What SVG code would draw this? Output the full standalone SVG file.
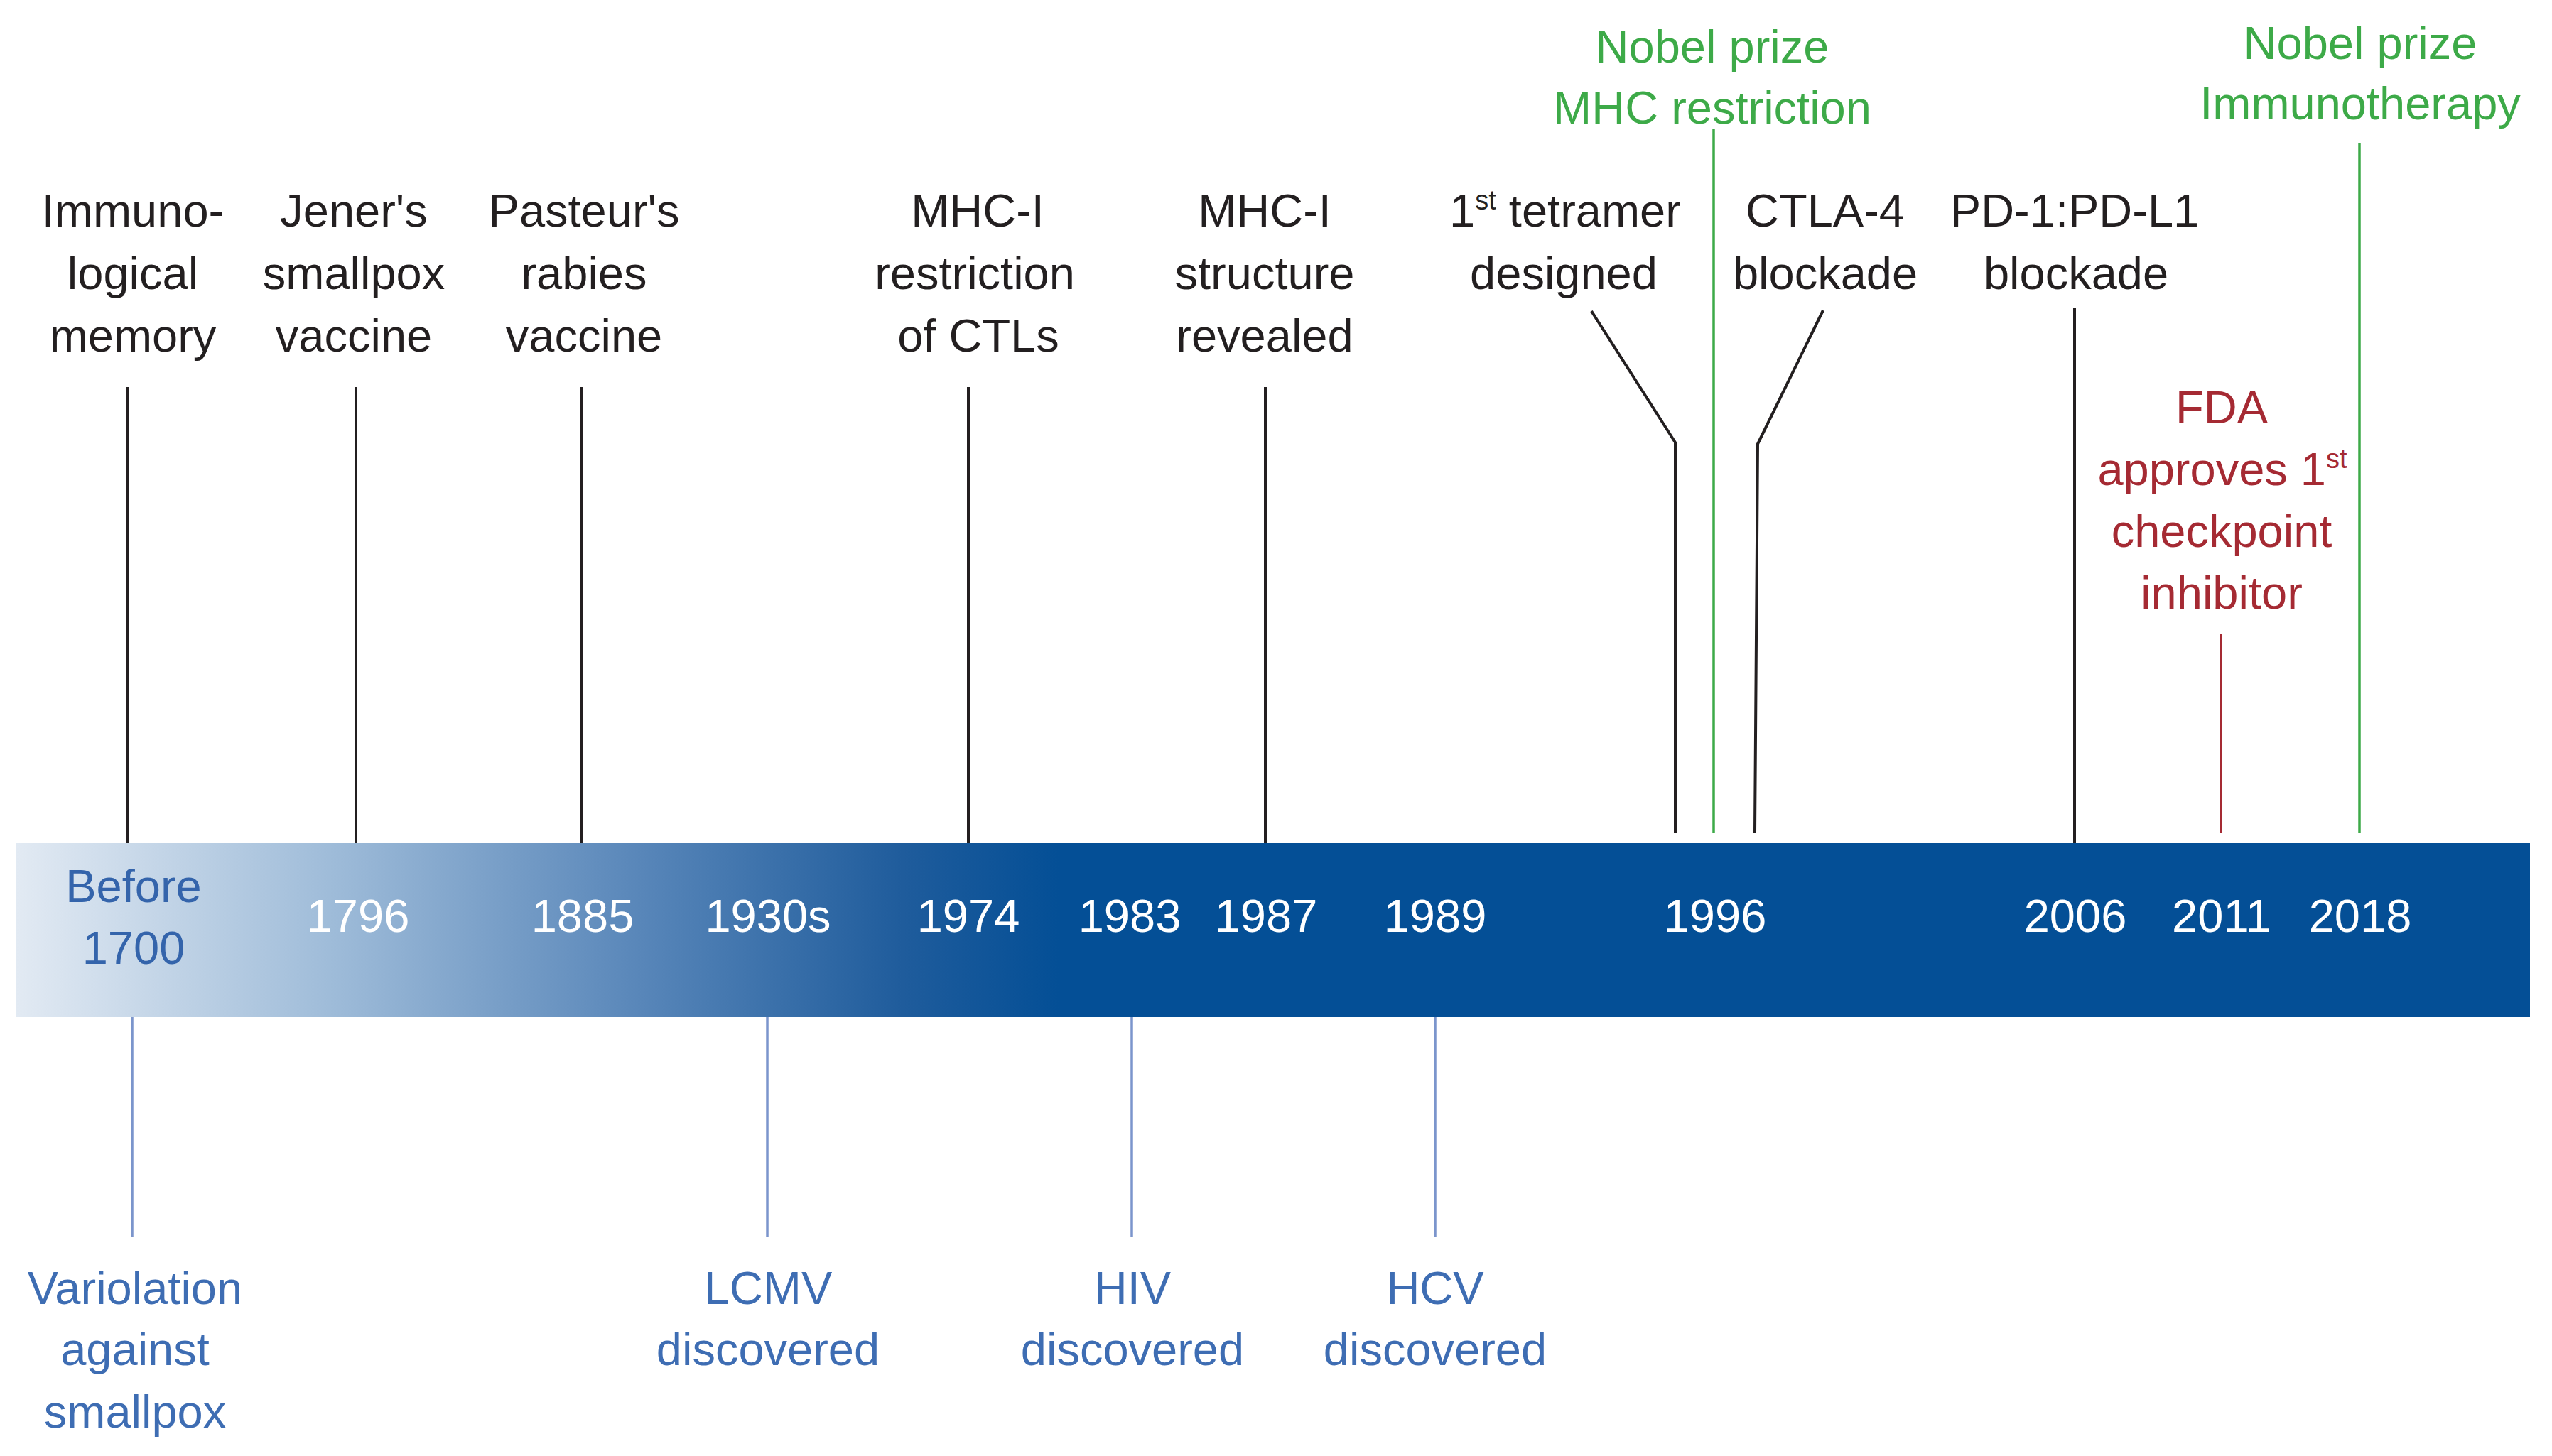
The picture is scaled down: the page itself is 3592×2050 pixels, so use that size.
<svg xmlns="http://www.w3.org/2000/svg" width="3592" height="2050" viewBox="0 0 3592 2050">
<defs>
<linearGradient id="barGrad" gradientUnits="userSpaceOnUse" x1="23" y1="0" x2="1490" y2="0">
<stop offset="0" stop-color="#e2eaf3"/>
<stop offset="0.3" stop-color="#9fbcd9"/>
<stop offset="0.6" stop-color="#5886b9"/>
<stop offset="0.85" stop-color="#1f5c9c"/>
<stop offset="1" stop-color="#044f96"/>
</linearGradient>
<style>
text{font-family:"Liberation Sans",Arial,sans-serif;font-size:65px;text-anchor:middle}
.blk{fill:#231f20}
.grn{fill:#3daa48}
.red{fill:#a52a33}
.blu{fill:#3e6db3}
.blu2{fill:#3464ab}
.yr{fill:#ffffff}
.sup{font-size:38px}
.lb{stroke:#231f20;stroke-width:4;fill:none}
.lg{stroke:#3daa48;stroke-width:3.5;fill:none}
.lr{stroke:#a52a33;stroke-width:4;fill:none}
.lu{stroke:#7b95cc;stroke-width:3.5;fill:none}
</style>
</defs>
<rect width="3592" height="2050" fill="#ffffff"/>

<g id="timeline-bar">
<rect x="23" y="1187" width="3538" height="245" fill="url(#barGrad)"/>
</g>

<g id="connectors">
<line class="lb" x1="180" y1="545" x2="180" y2="1187"/>
<line class="lb" x1="501" y1="545" x2="501" y2="1187"/>
<line class="lb" x1="819" y1="545" x2="819" y2="1187"/>
<line class="lb" x1="1363" y1="545" x2="1363" y2="1187"/>
<line class="lb" x1="1781" y1="545" x2="1781" y2="1187"/>
<polyline class="lb" points="2240,438 2358,623 2358,1173"/>
<line class="lg" x1="2412" y1="181" x2="2412" y2="1173"/>
<polyline class="lb" points="2566,437 2474,625 2470,1173"/>
<line class="lb" x1="2920" y1="433" x2="2920" y2="1187"/>
<line class="lr" x1="3126" y1="893" x2="3126" y2="1173"/>
<line class="lg" x1="3321" y1="201" x2="3321" y2="1173"/>
<line class="lu" x1="186" y1="1432" x2="186" y2="1741"/>
<line class="lu" x1="1080" y1="1432" x2="1080" y2="1741"/>
<line class="lu" x1="1593" y1="1432" x2="1593" y2="1741"/>
<line class="lu" x1="2020" y1="1432" x2="2020" y2="1741"/>
</g>

<g id="years">
<text class="blu2" x="188" y="1270">Before</text>
<text class="blu2" x="188" y="1357">1700</text>
<text class="yr" x="504" y="1312">1796</text>
<text class="yr" x="820" y="1312">1885</text>
<text class="yr" x="1081" y="1312">1930s</text>
<text class="yr" x="1363" y="1312">1974</text>
<text class="yr" x="1590" y="1312">1983</text>
<text class="yr" x="1782" y="1312">1987</text>
<text class="yr" x="2020" y="1312">1989</text>
<text class="yr" x="2414" y="1312">1996</text>
<text class="yr" x="2921" y="1312">2006</text>
<text class="yr" x="3127" y="1312">2011</text>
<text class="yr" x="3322" y="1312">2018</text>
</g>

<g id="node-immunological-memory">
<text class="blk" x="187" y="319">Immuno-</text>
<text class="blk" x="187" y="407">logical</text>
<text class="blk" x="187" y="495">memory</text>
</g>
<g id="node-jener">
<text class="blk" x="498" y="319">Jener's</text>
<text class="blk" x="498" y="407">smallpox</text>
<text class="blk" x="498" y="495">vaccine</text>
</g>
<g id="node-pasteur">
<text class="blk" x="822" y="319">Pasteur's</text>
<text class="blk" x="822" y="407">rabies</text>
<text class="blk" x="822" y="495">vaccine</text>
</g>
<g id="node-mhc-restriction">
<text class="blk" x="1376" y="319">MHC-I</text>
<text class="blk" x="1372" y="407">restriction</text>
<text class="blk" x="1377" y="495">of CTLs</text>
</g>
<g id="node-mhc-structure">
<text class="blk" x="1780" y="319">MHC-I</text>
<text class="blk" x="1780" y="407">structure</text>
<text class="blk" x="1780" y="495">revealed</text>
</g>
<g id="node-tetramer">
<text class="blk" x="2203" y="319">1<tspan class="sup" dy="-24">st</tspan><tspan dy="24"> tetramer</tspan></text>
<text class="blk" x="2201" y="407">designed</text>
</g>
<g id="node-nobel-mhc">
<text class="grn" x="2410" y="88">Nobel prize</text>
<text class="grn" x="2410" y="174">MHC restriction</text>
</g>
<g id="node-ctla4">
<text class="blk" x="2569" y="319">CTLA-4</text>
<text class="blk" x="2569" y="407">blockade</text>
</g>
<g id="node-pd1">
<text class="blk" x="2920" y="319">PD-1:PD-L1</text>
<text class="blk" x="2922" y="407">blockade</text>
</g>
<g id="node-fda">
<text class="red" x="3127" y="596">FDA</text>
<text class="red" x="3128" y="683">approves 1<tspan class="sup" dy="-24">st</tspan></text>
<text class="red" x="3127" y="770">checkpoint</text>
<text class="red" x="3127" y="857">inhibitor</text>
</g>
<g id="node-nobel-immuno">
<text class="grn" x="3322" y="83">Nobel prize</text>
<text class="grn" x="3322" y="168">Immunotherapy</text>
</g>

<g id="node-variolation">
<text class="blu" x="190" y="1836">Variolation</text>
<text class="blu" x="190" y="1922">against</text>
<text class="blu" x="190" y="2010">smallpox</text>
</g>
<g id="node-lcmv">
<text class="blu" x="1081" y="1836">LCMV</text>
<text class="blu" x="1081" y="1922">discovered</text>
</g>
<g id="node-hiv">
<text class="blu" x="1594" y="1836">HIV</text>
<text class="blu" x="1594" y="1922">discovered</text>
</g>
<g id="node-hcv">
<text class="blu" x="2020" y="1836">HCV</text>
<text class="blu" x="2020" y="1922">discovered</text>
</g>
</svg>
